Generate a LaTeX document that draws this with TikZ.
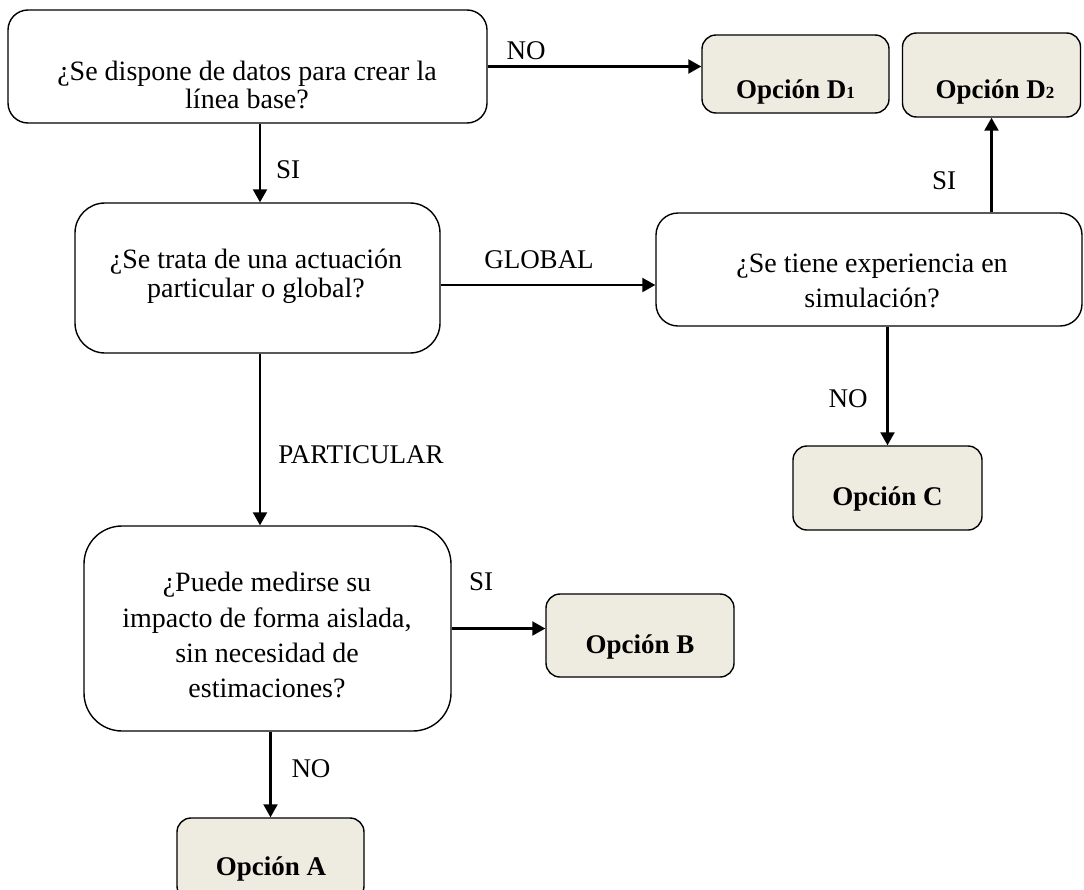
\documentclass[tikz,border=0pt]{standalone}
\usepackage{fontspec}
\setmainfont{Liberation Serif}
\usetikzlibrary{arrows.meta}
\definecolor{optfill}{HTML}{EEECE1}
\tikzset{
  qbox/.style={draw=black, line width=1.4pt, fill=white, inner sep=0pt},
  obox/.style={draw=black, line width=1.4pt, fill=optfill, rounded corners=14pt, inner sep=0pt},
  qtext/.style={align=center, inner sep=0pt},
  otext/.style={anchor=base, inner sep=0pt, font=\fontsize{27}{27}\selectfont\bfseries},
  lbl/.style={anchor=base, inner sep=0pt, font=\fontsize{27}{27}\selectfont},
  arr/.style={line width=2.2pt, -{Triangle[length=13pt,width=14pt]}}
}
\newcommand{\smdig}[1]{{\fontsize{17}{17}\selectfont #1}}
\begin{document}
\begin{tikzpicture}[x=1pt,y=-1pt]
\clip (0,0) rectangle (1084,889);
\fill[white] (0,0) rectangle (1084,889);
% question boxes
\node[qbox, rounded corners=20pt, minimum width=479pt, minimum height=113pt] (b1) at (247.5,66.5) {};
\node[qbox, rounded corners=30pt, minimum width=365pt, minimum height=150pt] (b2) at (257.5,278) {};
\node[qbox, rounded corners=22pt, minimum width=426pt, minimum height=113pt] (b3) at (869,269.5) {};
\node[qbox, rounded corners=38pt, minimum width=367pt, minimum height=205pt] (b4) at (267.5,628.5) {};
% option boxes
\node[obox, minimum width=187pt, minimum height=78pt] (d1) at (795.5,74) {};
\node[obox, minimum width=178pt, minimum height=84pt] (d2) at (991.5,75) {};
\node[obox, minimum width=189pt, minimum height=84pt] (oc) at (887.5,488) {};
\node[obox, minimum width=188pt, minimum height=83pt] (ob) at (640,635.5) {};
\node[obox, minimum width=187pt, minimum height=82pt] (oa) at (270.5,859) {};
% question texts
\node[qtext, font=\fontsize{28}{28}\selectfont] (t1) at (247,84.8) {¿Se dispone de datos para crear la\\línea base?};
\node[qtext, font=\fontsize{28}{29}\selectfont] (t2) at (256,275.8) {¿Se trata de una actuación\\particular o global?};
\node[qtext, font=\fontsize{28}{35}\selectfont] (t3) at (872,280.8) {¿Se tiene experiencia en\\simulación?};
\node[qtext, font=\fontsize{28}{35.3}\selectfont] (t4) at (267,635.3) {¿Puede medirse su\\impacto de forma aislada,\\sin necesidad de\\estimaciones?};
% option texts
\node[otext] (td1) at (795.5,98) {Opción D\smdig{1}};
\node[otext] (td2) at (995,98) {Opción D\smdig{2}};
\node[otext] (tc) at (887.5,505) {Opción C};
\node[otext] (tb) at (640,653) {Opción B};
\node[otext] (ta) at (271,875) {Opción A};
% connectors
\draw[arr] (b1.east) -- (b1.east -| d1.west);
\draw[arr] ([xshift=12.5pt]b1.south) -- ([xshift=12.5pt]b1.south |- b2.north);
\draw[arr] ([yshift=-7pt]b2.east) -- ([yshift=-7pt]b2.east -| b3.west);
\draw[arr] (b3.north -| d2.south) -- (d2.south);
\draw[arr] (b3.south -| oc.north) -- (oc.north);
\draw[arr] ([xshift=2.5pt]b2.south) -- ([xshift=2.5pt]b2.south |- b4.north);
\draw[arr] (b4.east) -- (b4.east -| ob.west);
\draw[arr] (b4.south -| oa.north) -- (oa.north);
% labels
\node[lbl] (l1) at (526,59) {NO};
\node[lbl] (l2) at (288,178) {SI};
\node[lbl] (l3) at (539,268) {GLOBAL};
\node[lbl] (l4) at (944,189) {SI};
\node[lbl] (l5) at (848,407) {NO};
\node[lbl] (l6) at (361,463) {PARTICULAR};
\node[lbl] (l7) at (481,590) {SI};
\node[lbl] (l8) at (311,777) {NO};
\end{tikzpicture}
\end{document}
